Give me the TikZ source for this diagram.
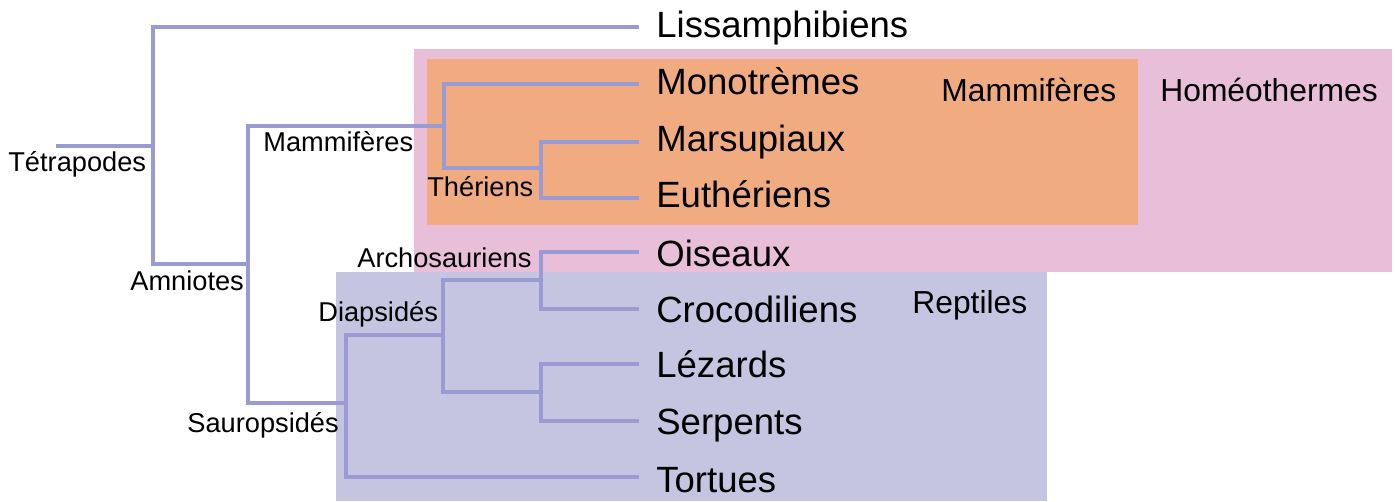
\documentclass[tikz,border=0pt]{standalone}
\usepackage{fontspec}
\setmainfont{Liberation Sans}
\usepackage{tikz}
\usetikzlibrary{positioning}

\definecolor{branche}{HTML}{9B9BD3}
\definecolor{rose}{HTML}{E8BED9}
\definecolor{orange}{HTML}{F0AC80}
\definecolor{lavande}{HTML}{C5C5E2}

\tikzset{
 branch/.style={draw=branche, line width=2.2pt},
 leaf/.style={anchor=base west, inner sep=0pt, font=\fontsize{20.8}{24}\selectfont},
 clade/.style={anchor=base west, inner sep=0pt, font=\fontsize{15.5}{18}\selectfont},
 group/.style={anchor=base west, inner sep=0pt, font=\fontsize{18.1}{21}\selectfont},
}

\begin{document}
\begin{tikzpicture}[x=0.02cm, y=-0.02cm]
	\useasboundingbox (0,0) rectangle (1396,501);
	\fill[rose] (414,49) rectangle (1392,272);
	\fill[orange] (427,59) rectangle (1138,225);
	\fill[lavande] (336,272) rectangle (1047,501);

	\coordinate (racine) at (56,146);
	\coordinate (tetra) at (153,146);
	\coordinate (amnio) at (248,264);
	\coordinate (mamm) at (444,126);
	\coordinate (theri) at (541,168);
	\coordinate (sauro) at (346,403);
	\coordinate (diaps) at (443,335);
	\coordinate (archo) at (541,280);
	\coordinate (lepido) at (541,392);
	\coordinate (tLiss) at (639,27);
	\coordinate (tMono) at (639,84);
	\coordinate (tMars) at (639,142);
	\coordinate (tEuth) at (639,198);
	\coordinate (tOis) at (639,252);
	\coordinate (tCroc) at (639,309);
	\coordinate (tLez) at (639,364);
	\coordinate (tSerp) at (639,421);
	\coordinate (tTort) at (639,477);

	\draw[branch] (racine) -- (tetra);
	\draw[branch] (tLiss) -| (tetra) |- (amnio);
	\draw[branch] (mamm) -| (amnio) |- (sauro);
	\draw[branch] (tMono) -| (mamm) |- (theri);
	\draw[branch] (tMars) -| (theri) |- (tEuth);
	\draw[branch] (diaps) -| (sauro) |- (tTort);
	\draw[branch] (archo) -| (diaps) |- (lepido);
	\draw[branch] (tOis) -| (archo) |- (tCroc);
	\draw[branch] (tLez) -| (lepido) |- (tSerp);

	\node[leaf] (liss) at (656,37) {Lissamphibiens};
	\node[leaf] (mono) at (656,94) {Monotrèmes};
	\node[leaf] (mars) at (656,151) {Marsupiaux};
	\node[leaf] (euth) at (656,207) {Euthériens};
	\node[leaf] (ois) at (656,266) {Oiseaux};
	\node[leaf] (croc) at (656,322) {Crocodiliens};
	\node[leaf] (lez) at (656,377) {Lézards};
	\node[leaf] (serp) at (656,434) {Serpents};
	\node[leaf] (tort) at (656,492) {Tortues};

	\node[clade] (lTetra) at (8,171) {Tétrapodes};
	\node[clade] (lAmnio) at (130,290) {Amniotes};
	\node[clade] (lMamm) at (263,151) {Mammifères};
	\node[clade] (lTheri) at (427,196) {Thériens};
	\node[clade] (lArcho) at (357,267) {Archosauriens};
	\node[clade] (lDiaps) at (318,321) {Diapsidés};
	\node[clade] (lSauro) at (187,432) {Sauropsidés};

	\node[group] (gMamm) at (941,101) {Mammifères};
	\node[group] (gHomeo) at (1160,101) {Homéothermes};
	\node[group] (gRept) at (912,313) {Reptiles};
\end{tikzpicture}
\end{document}
